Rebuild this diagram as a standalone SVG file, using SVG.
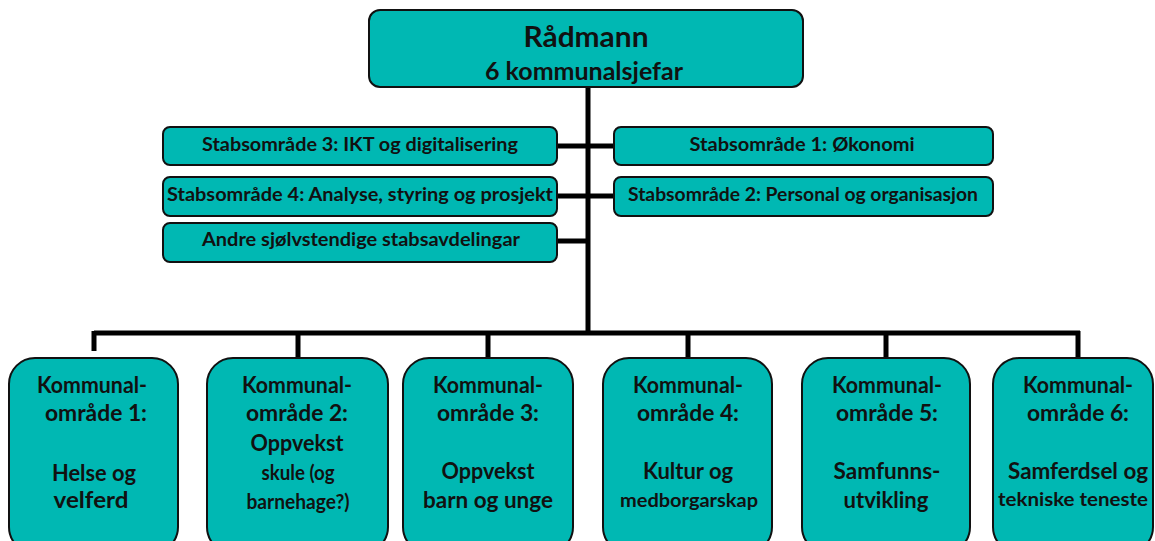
<svg xmlns="http://www.w3.org/2000/svg" width="1155" height="541" viewBox="0 0 1155 541">
<style>
.box{fill:#00B8B3;stroke:#111;stroke-width:2}
.t{font-family:Lato,"Liberation Sans",sans-serif;font-weight:bold;fill:#111;text-anchor:middle}
.conn{stroke:#000;stroke-width:5;fill:none}
</style>
<rect width="1155" height="541" fill="#fff"/>
<g id="connectors">
<path class="conn" d="M588 87V333M557 146H588M557 196H588M557 241H588M588 146H614M588 196H614"/>
<path class="conn" d="M94 333H1080M94 331V351M298 333V358M488 333V358M688 333V358M886 333V358M1078 331V358"/>
</g>
<g id="radmann">
<rect class="box" x="369" y="10" width="434" height="77" rx="11"/>
<text class="t" x="586" y="47" font-size="29" textLength="125" lengthAdjust="spacingAndGlyphs">Rådmann</text>
<text class="t" x="584" y="80" font-size="25" textLength="198" lengthAdjust="spacingAndGlyphs">6 kommunalsjefar</text>
</g>
<g id="stab3">
<rect class="box" x="163" y="127" width="394" height="38" rx="7"/>
<text class="t" x="360" y="151" font-size="19" textLength="316" lengthAdjust="spacingAndGlyphs">Stabsområde 3: IKT og digitalisering</text>
</g>
<g id="stab4">
<rect class="box" x="163" y="177" width="394" height="39" rx="7"/>
<text class="t" x="360" y="201" font-size="19" textLength="386" lengthAdjust="spacingAndGlyphs">Stabsområde 4: Analyse, styring og prosjekt</text>
</g>
<g id="andre">
<rect class="box" x="163" y="223" width="394" height="39" rx="7"/>
<text class="t" x="361" y="246" font-size="19" textLength="318" lengthAdjust="spacingAndGlyphs">Andre sjølvstendige stabsavdelingar</text>
</g>
<g id="stab1">
<rect class="box" x="614" y="127" width="379" height="38" rx="7"/>
<text class="t" x="802" y="151" font-size="19" textLength="225" lengthAdjust="spacingAndGlyphs">Stabsområde 1: Økonomi</text>
</g>
<g id="stab2">
<rect class="box" x="614" y="177" width="379" height="39" rx="7"/>
<text class="t" x="803" y="201" font-size="19" textLength="350" lengthAdjust="spacingAndGlyphs">Stabsområde 2: Personal og organisasjon</text>
</g>
<g id="k1">
<rect class="box" x="9" y="358" width="169" height="195" rx="26"/>
<text class="t" x="92" y="393" font-size="22" textLength="110" lengthAdjust="spacingAndGlyphs">Kommunal-</text>
<text class="t" x="96" y="421" font-size="22" textLength="102" lengthAdjust="spacingAndGlyphs">område 1:</text>
<text class="t" x="94" y="481" font-size="22" textLength="84" lengthAdjust="spacingAndGlyphs">Helse og</text>
<text class="t" x="91" y="508" font-size="22" textLength="75" lengthAdjust="spacingAndGlyphs">velferd</text>
</g>
<g id="k2">
<rect class="box" x="207" y="358" width="181" height="195" rx="26"/>
<text class="t" x="297" y="393" font-size="22" textLength="110" lengthAdjust="spacingAndGlyphs">Kommunal-</text>
<text class="t" x="297" y="421" font-size="22" textLength="102" lengthAdjust="spacingAndGlyphs">område 2:</text>
<text class="t" x="297" y="451" font-size="22" textLength="93" lengthAdjust="spacingAndGlyphs">Oppvekst</text>
<text class="t" x="298" y="480" font-size="21" textLength="73" lengthAdjust="spacingAndGlyphs">skule (og</text>
<text class="t" x="298" y="509" font-size="21" textLength="103" lengthAdjust="spacingAndGlyphs">barnehage?)</text>
</g>
<g id="k3">
<rect class="box" x="403" y="358" width="170" height="195" rx="26"/>
<text class="t" x="488" y="393" font-size="22" textLength="110" lengthAdjust="spacingAndGlyphs">Kommunal-</text>
<text class="t" x="488" y="421" font-size="22" textLength="102" lengthAdjust="spacingAndGlyphs">område 3:</text>
<text class="t" x="488" y="479" font-size="22" textLength="93" lengthAdjust="spacingAndGlyphs">Oppvekst</text>
<text class="t" x="488" y="508" font-size="22" textLength="130" lengthAdjust="spacingAndGlyphs">barn og unge</text>
</g>
<g id="k4">
<rect class="box" x="603" y="358" width="169" height="195" rx="26"/>
<text class="t" x="688" y="393" font-size="22" textLength="110" lengthAdjust="spacingAndGlyphs">Kommunal-</text>
<text class="t" x="688" y="421" font-size="22" textLength="102" lengthAdjust="spacingAndGlyphs">område 4:</text>
<text class="t" x="688" y="479" font-size="22" textLength="90" lengthAdjust="spacingAndGlyphs">Kultur og</text>
<text class="t" x="689" y="507" font-size="19" textLength="138" lengthAdjust="spacingAndGlyphs">medborgarskap</text>
</g>
<g id="k5">
<rect class="box" x="802" y="358" width="168" height="195" rx="26"/>
<text class="t" x="887" y="393" font-size="22" textLength="110" lengthAdjust="spacingAndGlyphs">Kommunal-</text>
<text class="t" x="887" y="421" font-size="22" textLength="102" lengthAdjust="spacingAndGlyphs">område 5:</text>
<text class="t" x="887" y="479" font-size="22" textLength="107" lengthAdjust="spacingAndGlyphs">Samfunns-</text>
<text class="t" x="886" y="508" font-size="22" textLength="85" lengthAdjust="spacingAndGlyphs">utvikling</text>
</g>
<g id="k6">
<rect class="box" x="993" y="358" width="160" height="195" rx="26"/>
<text class="t" x="1078" y="393" font-size="22" textLength="110" lengthAdjust="spacingAndGlyphs">Kommunal-</text>
<text class="t" x="1078" y="421" font-size="22" textLength="102" lengthAdjust="spacingAndGlyphs">område 6:</text>
<text class="t" x="1078" y="479" font-size="22" textLength="140" lengthAdjust="spacingAndGlyphs">Samferdsel og</text>
<text class="t" x="1073" y="506" font-size="18" textLength="150" lengthAdjust="spacingAndGlyphs">tekniske teneste</text>
</g>
</svg>
